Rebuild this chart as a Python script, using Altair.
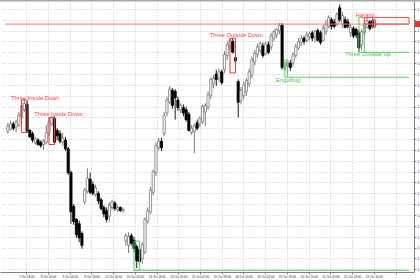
import altair as alt
import pandas as pd

# ---- candle data (price), one entry per bar ----
opens = [
    1.1327, 1.1329, 1.1334, 1.1331, 1.1333, 1.1340, 1.1347, 1.1352, 1.1328, 1.1325,
    1.1317, 1.1319, 1.1317, 1.1315, 1.1317, 1.1325, 1.1334, 1.1339, 1.1328, 1.1325,
    1.1317, 1.1319, 1.1311, 1.1289, 1.1258, 1.1246, 1.1242, 1.1233, 1.1262, 1.1272,
    1.1283, 1.1278, 1.1269, 1.1270, 1.1264, 1.1257, 1.1254, 1.1249, 1.1257, 1.1261,
    1.1255, 1.1257, 1.1254, 1.1226, 1.1222, 1.1231, 1.1227, 1.1221, 1.1218, 1.1210,
    1.1216, 1.1244, 1.1253, 1.1271, 1.1289, 1.1312, 1.1318, 1.1325, 1.1344, 1.1354,
    1.1365, 1.1364, 1.1356, 1.1347, 1.1349, 1.1347, 1.1343, 1.1326, 1.1327, 1.1335,
    1.1334, 1.1336, 1.1345, 1.1349, 1.1360, 1.1371, 1.1380, 1.1376, 1.1382, 1.1384,
    1.1397, 1.1405, 1.1410, 1.1395, 1.1373, 1.1355, 1.1360, 1.1364, 1.1371, 1.1379,
    1.1391, 1.1398, 1.1402, 1.1406, 1.1399, 1.1407, 1.1405, 1.1413, 1.1416, 1.1420,
    1.1425, 1.1385, 1.1387, 1.1390, 1.1390, 1.1397, 1.1404, 1.1409, 1.1413, 1.1411,
    1.1414, 1.1418, 1.1415, 1.1420, 1.1418, 1.1411, 1.1419, 1.1424, 1.1430, 1.1428,
    1.1426, 1.1441, 1.1426, 1.1430, 1.1428, 1.1418, 1.1422, 1.1421, 1.1418, 1.1407,
    1.1418, 1.1423, 1.1428, 1.1429, 1.1425,
]
highs = [
    1.1335, 1.1337, 1.1336, 1.1338, 1.1345, 1.1354, 1.1356, 1.1355, 1.1329, 1.1327,
    1.1322, 1.1321, 1.1319, 1.1320, 1.1333, 1.1340, 1.1341, 1.1341, 1.1330, 1.1328,
    1.1326, 1.1322, 1.1313, 1.1291, 1.1260, 1.1247, 1.1245, 1.1235, 1.1275, 1.1293,
    1.1289, 1.1281, 1.1278, 1.1272, 1.1266, 1.1259, 1.1257, 1.1262, 1.1264, 1.1263,
    1.1259, 1.1258, 1.1257, 1.1233, 1.1234, 1.1233, 1.1230, 1.1223, 1.1221, 1.1225,
    1.1248, 1.1257, 1.1276, 1.1292, 1.1317, 1.1321, 1.1321, 1.1345, 1.1359, 1.1369,
    1.1367, 1.1366, 1.1359, 1.1353, 1.1352, 1.1350, 1.1345, 1.1333, 1.1334, 1.1338,
    1.1341, 1.1352, 1.1353, 1.1364, 1.1377, 1.1379, 1.1384, 1.1385, 1.1384, 1.1401,
    1.1410, 1.1413, 1.1413, 1.1398, 1.1375, 1.1368, 1.1373, 1.1376, 1.1385, 1.1396,
    1.1402, 1.1408, 1.1410, 1.1409, 1.1410, 1.1410, 1.1418, 1.1421, 1.1422, 1.1427,
    1.1427, 1.1391, 1.1393, 1.1393, 1.1400, 1.1408, 1.1413, 1.1416, 1.1415, 1.1419,
    1.1419, 1.1420, 1.1421, 1.1422, 1.1420, 1.1425, 1.1430, 1.1434, 1.1432, 1.1431,
    1.1437, 1.1444, 1.1437, 1.1433, 1.1431, 1.1426, 1.1424, 1.1423, 1.1421, 1.1421,
    1.1428, 1.1432, 1.1430, 1.1431, 1.1428,
]
lows = [
    1.1325, 1.1328, 1.1328, 1.1326, 1.1331, 1.1337, 1.1345, 1.1326, 1.1321, 1.1317,
    1.1315, 1.1314, 1.1312, 1.1310, 1.1315, 1.1323, 1.1332, 1.1315, 1.1319, 1.1316,
    1.1314, 1.1309, 1.1287, 1.1242, 1.1241, 1.1229, 1.1225, 1.1219, 1.1260, 1.1270,
    1.1269, 1.1268, 1.1267, 1.1260, 1.1254, 1.1248, 1.1243, 1.1244, 1.1255, 1.1254,
    1.1253, 1.1253, 1.1252, 1.1222, 1.1215, 1.1222, 1.1216, 1.1201, 1.1203, 1.1205,
    1.1214, 1.1242, 1.1251, 1.1268, 1.1286, 1.1310, 1.1309, 1.1323, 1.1341, 1.1352,
    1.1348, 1.1338, 1.1346, 1.1344, 1.1341, 1.1336, 1.1327, 1.1324, 1.1307, 1.1328,
    1.1331, 1.1334, 1.1332, 1.1347, 1.1357, 1.1367, 1.1369, 1.1373, 1.1370, 1.1381,
    1.1393, 1.1402, 1.1399, 1.1390, 1.1340, 1.1352, 1.1357, 1.1360, 1.1368, 1.1376,
    1.1388, 1.1395, 1.1399, 1.1395, 1.1397, 1.1398, 1.1402, 1.1410, 1.1413, 1.1417,
    1.1384, 1.1383, 1.1382, 1.1383, 1.1387, 1.1395, 1.1402, 1.1406, 1.1407, 1.1409,
    1.1411, 1.1410, 1.1409, 1.1410, 1.1407, 1.1410, 1.1416, 1.1422, 1.1421, 1.1422,
    1.1424, 1.1428, 1.1422, 1.1422, 1.1422, 1.1414, 1.1413, 1.1413, 1.1400, 1.1402,
    1.1415, 1.1422, 1.1420, 1.1422, 1.1423,
]
closes = [
    1.1332, 1.1334, 1.1330, 1.1336, 1.1342, 1.1351, 1.1353, 1.1327, 1.1322, 1.1319,
    1.1320, 1.1315, 1.1314, 1.1318, 1.1326, 1.1336, 1.1340, 1.1317, 1.1323, 1.1318,
    1.1321, 1.1311, 1.1289, 1.1253, 1.1244, 1.1232, 1.1229, 1.1222, 1.1273, 1.1284,
    1.1271, 1.1270, 1.1275, 1.1263, 1.1256, 1.1251, 1.1246, 1.1259, 1.1262, 1.1256,
    1.1257, 1.1254, 1.1255, 1.1231, 1.1230, 1.1224, 1.1219, 1.1208, 1.1207, 1.1223,
    1.1246, 1.1254, 1.1273, 1.1290, 1.1314, 1.1318, 1.1312, 1.1342, 1.1356, 1.1366,
    1.1351, 1.1358, 1.1349, 1.1351, 1.1344, 1.1338, 1.1328, 1.1330, 1.1332, 1.1330,
    1.1339, 1.1350, 1.1351, 1.1361, 1.1375, 1.1376, 1.1375, 1.1382, 1.1372, 1.1398,
    1.1407, 1.1411, 1.1400, 1.1392, 1.1354, 1.1365, 1.1370, 1.1374, 1.1382, 1.1393,
    1.1399, 1.1405, 1.1408, 1.1397, 1.1408, 1.1400, 1.1415, 1.1419, 1.1421, 1.1425,
    1.1386, 1.1387, 1.1391, 1.1386, 1.1398, 1.1405, 1.1410, 1.1413, 1.1410, 1.1416,
    1.1417, 1.1413, 1.1419, 1.1411, 1.1409, 1.1422, 1.1426, 1.1432, 1.1424, 1.1424,
    1.1435, 1.1430, 1.1434, 1.1423, 1.1424, 1.1423, 1.1415, 1.1416, 1.1404, 1.1419,
    1.1425, 1.1429, 1.1422, 1.1424, 1.1426,
]

# ---- axis labels ----
time_ticks = [6.67, 14.6, 22.52, 30.45, 38.37, 46.3, 54.22, 62.15, 70.07, 78.0,
              85.92, 93.85, 101.77, 109.7, 117.62, 125.55, 133.47, 141.4]
time_labels = ["7 Oct 18:00", "8 Oct 10:00", "9 Oct 02:00", "9 Oct 18:00", "12 Oct 10:00",
               "13 Oct 02:00", "13 Oct 18:00", "14 Oct 10:00", "15 Oct 02:00", "15 Oct 18:00",
               "16 Oct 10:00", "19 Oct 02:00", "19 Oct 18:00", "20 Oct 10:00", "21 Oct 02:00",
               "21 Oct 18:00", "22 Oct 10:00", ""]
price_ticks = [1.1200, 1.1210, 1.1220, 1.1230, 1.1240, 1.1250, 1.1260, 1.1270, 1.1280,
               1.1290, 1.1300, 1.1310, 1.1320, 1.1330, 1.1340, 1.1350, 1.1360, 1.1370,
               1.1380, 1.1390, 1.1400, 1.1410, 1.1420, 1.1430, 1.1440]
bid_price = 1.1426

# ---- pattern annotations ----
box_start = [5, 15, 81, 101, 128, 46, 130, 133]
box_end = [7, 17, 83, 102, 130, 48, 146.28, 134]
box_top = [1.1356, 1.1340, 1.1413, 1.1393, 1.1432, 1.1226, 1.1432, 1.1430]
box_bottom = [1.1326, 1.1315, 1.1381, 1.1377, 1.1400, 1.1199, 1.1426, 1.1423]
box_color = ["#e83a3a", "#e83a3a", "#e83a3a", "#5ccc5c", "#5ccc5c", "#5ccc5c", "#ee4a4a", "#ee4a4a"]

level_start = [-1.05, 102, 130, 48]
level_price = [bid_price, 1.1377, 1.1400, 1.1199]
level_color = ["#f07878", "#5ccc5c", "#5ccc5c", "#5ccc5c"]

label_text = ["Three Inside Down", "Three Inside Down", "Three Outside Down",
              "Engulfing", "Three Outside Up", "Harami"]
label_bar = [10.0, 18.5, 83.3, 102.2, 131.3, 130.3]
label_price = [1.1358, 1.1343, 1.1416, 1.13745, 1.1398, 1.14345]
label_color = ["#ff3c3c", "#ff3c3c", "#ff3c3c", "#4cc04c", "#4cc04c", "#ff3c3c"]

XMIN, XMAX = -1.05, 146.28
YMIN, YMAX = 1.11975, 1.14482
W, H = 414, 272

df = pd.DataFrame({"bar": list(range(len(opens))), "open": opens, "high": highs,
                   "low": lows, "close": closes})
df["dir"] = ["up" if c >= o else "down" for o, c in zip(opens, closes)]

boxes = pd.DataFrame({"x0": box_start, "x1": box_end, "p0": box_top, "p1": box_bottom, "c": box_color})
levels = pd.DataFrame({"x0": level_start, "x1": [XMAX] * len(level_start), "p": level_price, "c": level_color})
labels = pd.DataFrame({"t": label_text, "x": label_bar, "p": label_price, "c": label_color})

xs = alt.Scale(domain=[XMIN, XMAX], nice=False, zero=False)
ys = alt.Scale(domain=[YMIN, YMAX], nice=False, zero=False)

js_labels = "[" + ",".join("'" + s + "'" for s in time_labels) + "]"
js_ticks = "[" + ",".join(str(t) for t in time_ticks) + "]"

x_axis = alt.Axis(values=time_ticks, labelExpr=f"{js_labels}[indexof({js_ticks}, datum.value)]",
                  title=None, grid=True, gridDash=[1, 2], gridColor="#c4c4c4", gridWidth=1,
                  tickSize=2, tickColor="#808080", domainColor="#808080", labelFontSize=3,
                  labelFont="Liberation Sans", labelColor="#222222", labelPadding=1,
                  labelAlign="center", labelFlush=False, labelOverlap=False)
y_axis = alt.Axis(orient="right", values=price_ticks, format=".4f", title=None, grid=True,
                  gridDash=[1, 2], gridColor="#c4c4c4", gridWidth=1, tickSize=2,
                  tickColor="#808080", domainColor="#808080", labelFontSize=3,
                  labelFont="Liberation Sans", labelColor="#222222", labelPadding=1,
                  labelFlush=False, labelOverlap=False)

dir_dom = ["up", "down"]
wicks = alt.Chart(df).mark_rule(strokeWidth=1).encode(
    x=alt.X("bar:Q", scale=xs, axis=x_axis),
    y=alt.Y("low:Q", scale=ys, axis=y_axis),
    y2="high:Q",
    color=alt.Color("dir:N", scale=alt.Scale(domain=dir_dom, range=["#7a7a7a", "#1a1a1a"]), legend=None),
)
bodies = alt.Chart(df).mark_bar(size=2.2, strokeWidth=0.8).encode(
    x=alt.X("bar:Q", scale=xs, axis=x_axis),
    y=alt.Y("open:Q", scale=ys, axis=y_axis),
    y2="close:Q",
    fill=alt.Fill("dir:N", scale=alt.Scale(domain=dir_dom, range=["#ffffff", "#000000"]), legend=None),
    stroke=alt.Stroke("dir:N", scale=alt.Scale(domain=dir_dom, range=["#7a7a7a", "#000000"]), legend=None),
)
level_lines = alt.Chart(levels).mark_rule(strokeWidth=1).encode(
    x=alt.X("x0:Q", scale=xs, axis=x_axis), x2="x1:Q",
    y=alt.Y("p:Q", scale=ys, axis=y_axis),
    color=alt.Color("c:N", scale=None),
)
box_marks = alt.Chart(boxes).mark_rect(filled=False, strokeWidth=1).encode(
    x=alt.X("x0:Q", scale=xs, axis=x_axis), x2="x1:Q",
    y=alt.Y("p0:Q", scale=ys, axis=y_axis), y2="p1:Q",
    stroke=alt.Stroke("c:N", scale=None),
)
texts = alt.Chart(labels).mark_text(fontSize=5.8, font="Liberation Sans", baseline="middle",
                                     align="center").encode(
    x=alt.X("x:Q", scale=xs, axis=x_axis),
    y=alt.Y("p:Q", scale=ys, axis=y_axis),
    text="t:N",
    color=alt.Color("c:N", scale=None),
)
bid_tag = alt.Chart(pd.DataFrame({"p": [bid_price]})).mark_rule(strokeWidth=6, color="#e83030").encode(
    x=alt.value(W + 1), x2=alt.value(W + 10),
    y=alt.Y("p:Q", scale=ys, axis=y_axis),
)
top_border = alt.Chart(pd.DataFrame({"k": [0]})).mark_rule(strokeWidth=1.6, color="#a8a8a8").encode(
    x=alt.value(0), x2=alt.value(W + 10), y=alt.value(0.6),
)

chart = alt.layer(wicks, bodies, level_lines, box_marks, texts, bid_tag, top_border).properties(
    width=W, height=H,
    autosize=alt.AutoSizeParams(type="none"),
    padding={"left": 0, "top": 0, "right": 6, "bottom": 8},
    background="white",
).configure_view(stroke=None)

chart.save("out.html", embed_options={"renderer": "svg", "actions": False})
